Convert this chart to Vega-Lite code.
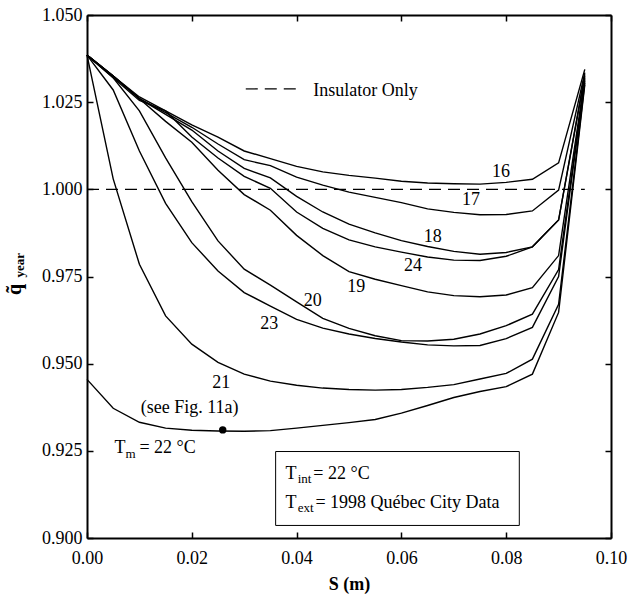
{
  "$schema": "https://vega.github.io/schema/vega-lite/v6.json",
  "width": 524,
  "height": 523,
  "autosize": {"type": "none"},
  "padding": {"left": 87, "top": 15, "right": 17, "bottom": 56},
  "config": {
    "font": "Liberation Serif, Times New Roman, Times, serif",
    "view": {"stroke": null},
    "axis": {
      "domainColor": "black", "domainWidth": 2,
      "tickColor": "black", "tickWidth": 1.5, "tickSize": -6,
      "labelColor": "black", "labelFontSize": 18, "labelFont": "Liberation Serif, Times New Roman, Times, serif",
      "titleFont": "Liberation Serif, Times New Roman, Times, serif", "titleColor": "black", "grid": false, "labelFlush": false
    },
    "text": {"font": "Liberation Serif, Times New Roman, Times, serif", "color": "black"}
  },
  "datasets": {
    "curves": [
      {"curve":"16","s":0,"q":1.0385},{"curve":"16","s":0.005,"q":1.0325},{"curve":"16","s":0.01,"q":1.0265},{"curve":"16","s":0.015,"q":1.0225},{"curve":"16","s":0.02,"q":1.0185},{"curve":"16","s":0.025,"q":1.015},{"curve":"16","s":0.03,"q":1.011},{"curve":"16","s":0.035,"q":1.0088},{"curve":"16","s":0.04,"q":1.0066},{"curve":"16","s":0.045,"q":1.005},{"curve":"16","s":0.05,"q":1.004},{"curve":"16","s":0.055,"q":1.0032},{"curve":"16","s":0.06,"q":1.0023},{"curve":"16","s":0.065,"q":1.0018},{"curve":"16","s":0.07,"q":1.0016},{"curve":"16","s":0.075,"q":1.0015},{"curve":"16","s":0.08,"q":1.002},{"curve":"16","s":0.085,"q":1.0029},{"curve":"16","s":0.09,"q":1.0076},{"curve":"16","s":0.095,"q":1.0344},
      {"curve":"17","s":0,"q":1.0385},{"curve":"17","s":0.005,"q":1.0325},{"curve":"17","s":0.01,"q":1.026},{"curve":"17","s":0.015,"q":1.022},{"curve":"17","s":0.02,"q":1.0178},{"curve":"17","s":0.025,"q":1.013},{"curve":"17","s":0.03,"q":1.0085},{"curve":"17","s":0.035,"q":1.0068},{"curve":"17","s":0.04,"q":1.0035},{"curve":"17","s":0.045,"q":1.0012},{"curve":"17","s":0.05,"q":0.9992},{"curve":"17","s":0.055,"q":0.9977},{"curve":"17","s":0.06,"q":0.9962},{"curve":"17","s":0.065,"q":0.9944},{"curve":"17","s":0.07,"q":0.9934},{"curve":"17","s":0.075,"q":0.9927},{"curve":"17","s":0.08,"q":0.9928},{"curve":"17","s":0.085,"q":0.9938},{"curve":"17","s":0.09,"q":0.9998},{"curve":"17","s":0.095,"q":1.0335},
      {"curve":"18","s":0,"q":1.0385},{"curve":"18","s":0.005,"q":1.0325},{"curve":"18","s":0.01,"q":1.026},{"curve":"18","s":0.015,"q":1.0215},{"curve":"18","s":0.02,"q":1.017},{"curve":"18","s":0.025,"q":1.011},{"curve":"18","s":0.03,"q":1.006},{"curve":"18","s":0.035,"q":1.0033},{"curve":"18","s":0.04,"q":0.998},{"curve":"18","s":0.045,"q":0.9935},{"curve":"18","s":0.05,"q":0.99},{"curve":"18","s":0.055,"q":0.9875},{"curve":"18","s":0.06,"q":0.9853},{"curve":"18","s":0.065,"q":0.9836},{"curve":"18","s":0.07,"q":0.9822},{"curve":"18","s":0.075,"q":0.9814},{"curve":"18","s":0.08,"q":0.9819},{"curve":"18","s":0.085,"q":0.9835},{"curve":"18","s":0.09,"q":0.9912},{"curve":"18","s":0.095,"q":1.033},
      {"curve":"24","s":0,"q":1.0385},{"curve":"24","s":0.005,"q":1.032},{"curve":"24","s":0.01,"q":1.0255},{"curve":"24","s":0.015,"q":1.0225},{"curve":"24","s":0.02,"q":1.015},{"curve":"24","s":0.025,"q":1.009},{"curve":"24","s":0.03,"q":1.0037},{"curve":"24","s":0.035,"q":1.0003},{"curve":"24","s":0.04,"q":0.9935},{"curve":"24","s":0.045,"q":0.9888},{"curve":"24","s":0.05,"q":0.9855},{"curve":"24","s":0.055,"q":0.9835},{"curve":"24","s":0.06,"q":0.982},{"curve":"24","s":0.065,"q":0.9806},{"curve":"24","s":0.07,"q":0.9797},{"curve":"24","s":0.075,"q":0.9796},{"curve":"24","s":0.08,"q":0.9808},{"curve":"24","s":0.085,"q":0.9835},{"curve":"24","s":0.09,"q":0.9912},{"curve":"24","s":0.095,"q":1.0325},
      {"curve":"19","s":0,"q":1.0385},{"curve":"19","s":0.005,"q":1.0325},{"curve":"19","s":0.01,"q":1.026},{"curve":"19","s":0.015,"q":1.0195},{"curve":"19","s":0.02,"q":1.0135},{"curve":"19","s":0.025,"q":1.0055},{"curve":"19","s":0.03,"q":0.9985},{"curve":"19","s":0.035,"q":0.994},{"curve":"19","s":0.04,"q":0.9868},{"curve":"19","s":0.045,"q":0.981},{"curve":"19","s":0.05,"q":0.9764},{"curve":"19","s":0.055,"q":0.9742},{"curve":"19","s":0.06,"q":0.9724},{"curve":"19","s":0.065,"q":0.9706},{"curve":"19","s":0.07,"q":0.9695},{"curve":"19","s":0.075,"q":0.9692},{"curve":"19","s":0.08,"q":0.9697},{"curve":"19","s":0.085,"q":0.9718},{"curve":"19","s":0.09,"q":0.981},{"curve":"19","s":0.095,"q":1.032},
      {"curve":"20","s":0,"q":1.0385},{"curve":"20","s":0.005,"q":1.032},{"curve":"20","s":0.01,"q":1.0225},{"curve":"20","s":0.015,"q":1.009},{"curve":"20","s":0.02,"q":0.9965},{"curve":"20","s":0.025,"q":0.9852},{"curve":"20","s":0.03,"q":0.9771},{"curve":"20","s":0.035,"q":0.9725},{"curve":"20","s":0.04,"q":0.9677},{"curve":"20","s":0.045,"q":0.963},{"curve":"20","s":0.05,"q":0.9601},{"curve":"20","s":0.055,"q":0.958},{"curve":"20","s":0.06,"q":0.9566},{"curve":"20","s":0.065,"q":0.9565},{"curve":"20","s":0.07,"q":0.957},{"curve":"20","s":0.075,"q":0.9585},{"curve":"20","s":0.08,"q":0.9609},{"curve":"20","s":0.085,"q":0.9642},{"curve":"20","s":0.09,"q":0.977},{"curve":"20","s":0.095,"q":1.0315},
      {"curve":"23","s":0,"q":1.0385},{"curve":"23","s":0.005,"q":1.0285},{"curve":"23","s":0.01,"q":1.011},{"curve":"23","s":0.015,"q":0.996},{"curve":"23","s":0.02,"q":0.9847},{"curve":"23","s":0.025,"q":0.9766},{"curve":"23","s":0.03,"q":0.9704},{"curve":"23","s":0.035,"q":0.9665},{"curve":"23","s":0.04,"q":0.9627},{"curve":"23","s":0.045,"q":0.9602},{"curve":"23","s":0.05,"q":0.9585},{"curve":"23","s":0.055,"q":0.9572},{"curve":"23","s":0.06,"q":0.9562},{"curve":"23","s":0.065,"q":0.9554},{"curve":"23","s":0.07,"q":0.9551},{"curve":"23","s":0.075,"q":0.9552},{"curve":"23","s":0.08,"q":0.9572},{"curve":"23","s":0.085,"q":0.9604},{"curve":"23","s":0.09,"q":0.975},{"curve":"23","s":0.095,"q":1.031},
      {"curve":"21","s":0,"q":1.0385},{"curve":"21","s":0.005,"q":1.003},{"curve":"21","s":0.01,"q":0.9785},{"curve":"21","s":0.015,"q":0.9637},{"curve":"21","s":0.02,"q":0.9556},{"curve":"21","s":0.025,"q":0.9504},{"curve":"21","s":0.03,"q":0.947},{"curve":"21","s":0.035,"q":0.945},{"curve":"21","s":0.04,"q":0.9438},{"curve":"21","s":0.045,"q":0.943},{"curve":"21","s":0.05,"q":0.9426},{"curve":"21","s":0.055,"q":0.9424},{"curve":"21","s":0.06,"q":0.9426},{"curve":"21","s":0.065,"q":0.9432},{"curve":"21","s":0.07,"q":0.944},{"curve":"21","s":0.075,"q":0.9456},{"curve":"21","s":0.08,"q":0.9472},{"curve":"21","s":0.085,"q":0.9513},{"curve":"21","s":0.09,"q":0.967},{"curve":"21","s":0.095,"q":1.0305},
      {"curve":"22","s":0,"q":0.9455},{"curve":"22","s":0.005,"q":0.9372},{"curve":"22","s":0.01,"q":0.9332},{"curve":"22","s":0.015,"q":0.9315},{"curve":"22","s":0.02,"q":0.9309},{"curve":"22","s":0.025,"q":0.9307},{"curve":"22","s":0.03,"q":0.9306},{"curve":"22","s":0.035,"q":0.9308},{"curve":"22","s":0.04,"q":0.9315},{"curve":"22","s":0.045,"q":0.9323},{"curve":"22","s":0.05,"q":0.9331},{"curve":"22","s":0.055,"q":0.934},{"curve":"22","s":0.06,"q":0.9358},{"curve":"22","s":0.065,"q":0.938},{"curve":"22","s":0.07,"q":0.9403},{"curve":"22","s":0.075,"q":0.942},{"curve":"22","s":0.08,"q":0.9434},{"curve":"22","s":0.085,"q":0.947},{"curve":"22","s":0.09,"q":0.9647},{"curve":"22","s":0.095,"q":1.03}
    ],
    "dashed": [
      {"line":"Insulator Only","s":0,"q":1.0},{"line":"Insulator Only","s":0.095,"q":1.0},
      {"line":"legend","s":0.0303,"q":1.0288},{"line":"legend","s":0.0406,"q":1.0288}
    ],
    "curveLabels": [
      {"label":"16","s":0.079,"q":1.005},
      {"label":"17","s":0.0733,"q":0.9968},
      {"label":"18","s":0.066,"q":0.9862},
      {"label":"24","s":0.0622,"q":0.978},
      {"label":"19","s":0.0514,"q":0.9721},
      {"label":"20","s":0.0431,"q":0.968},
      {"label":"23","s":0.0348,"q":0.9613},
      {"label":"21","s":0.0256,"q":0.9444},
      {"label":"(see Fig. 11a)","s":0.0196,"q":0.9374}
    ],
    "texts": [
      {"label":"Insulator Only","s":0.0432,"q":1.0269},
      {"label":"T","s":0.00525,"q":0.9243},
      {"label":"= 22 °C","s":0.01,"q":0.9243},
      {"label":"T","s":0.0379,"q":0.917},
      {"label":"= 22 °C","s":0.0432,"q":0.917},
      {"label":"T","s":0.0379,"q":0.9086},
      {"label":"= 1998 Québec City Data","s":0.0436,"q":0.9086}
    ],
    "subscripts": [
      {"label":"m","s":0.00735,"q":0.923},
      {"label":"int","s":0.0402,"q":0.9158},
      {"label":"ext","s":0.0402,"q":0.9074}
    ],
    "box": [{"s":0.036,"s2":0.0825,"q":0.9248,"q2":0.9036}],
    "marker": [{"s":0.0259,"q":0.931}],
    "ytitle": [{"label":"year","s":-0.0127,"q":0.9782}]
  },
  "layer": [
    {
      "data": {"name": "curves"},
      "mark": {"type": "line", "color": "black", "strokeWidth": 1.4},
      "encoding": {
        "x": {"field": "s", "type": "quantitative", "scale": {"domain": [0, 0.1], "nice": false, "zero": false},
              "axis": {"orient": "bottom", "values": [0, 0.02, 0.04, 0.06, 0.08, 0.1], "format": ".2f", "title": "S (m)", "titleFontSize": 18, "titleFontWeight": "bold", "labelPadding": 17, "titlePadding": 8}},
        "y": {"field": "q", "type": "quantitative", "scale": {"domain": [0.9, 1.05], "nice": false, "zero": false},
              "axis": {"orient": "left", "values": [0.9, 0.925, 0.95, 0.975, 1.0, 1.025, 1.05], "format": ".3f", "title": "q̃", "titleFontSize": 20, "titleFontWeight": "bold", "labelPadding": 11, "titleAngle": 270, "titleX": -73, "titleY": 274, "titleAlign": "center", "titleBaseline": "middle"}},
        "detail": {"field": "curve", "type": "nominal"}
      }
    },
    {
      "data": {"name": "dashed"},
      "mark": {"type": "line", "color": "black", "strokeWidth": 1.2, "strokeDash": [12, 7]},
      "encoding": {
        "x": {"field": "s", "type": "quantitative", "scale": {"domain": [0, 0.1], "nice": false, "zero": false},
              "axis": {"orient": "top", "values": [0, 0.02, 0.04, 0.06, 0.08, 0.1], "labels": false, "title": null}},
        "y": {"field": "q", "type": "quantitative", "scale": {"domain": [0.9, 1.05], "nice": false, "zero": false},
              "axis": {"orient": "right", "values": [0.9, 0.925, 0.95, 0.975, 1.0, 1.025, 1.05], "labels": false, "title": null}},
        "detail": {"field": "line", "type": "nominal"}
      }
    },
    {
      "data": {"name": "box"},
      "mark": {"type": "rect", "fill": "white", "stroke": "black", "strokeWidth": 1},
      "encoding": {
        "x": {"field": "s", "type": "quantitative", "scale": {"domain": [0, 0.1], "nice": false, "zero": false}, "axis": null},
        "x2": {"field": "s2"},
        "y": {"field": "q", "type": "quantitative", "scale": {"domain": [0.9, 1.05], "nice": false, "zero": false}, "axis": null},
        "y2": {"field": "q2"}
      }
    },
    {
      "data": {"name": "marker"},
      "mark": {"type": "point", "filled": true, "color": "black", "size": 55, "opacity": 1},
      "encoding": {
        "x": {"field": "s", "type": "quantitative", "scale": {"domain": [0, 0.1], "nice": false, "zero": false}, "axis": null},
        "y": {"field": "q", "type": "quantitative", "scale": {"domain": [0.9, 1.05], "nice": false, "zero": false}, "axis": null}
      }
    },
    {
      "data": {"name": "curveLabels"},
      "mark": {"type": "text", "fontSize": 18, "align": "center", "baseline": "middle"},
      "encoding": {
        "x": {"field": "s", "type": "quantitative", "scale": {"domain": [0, 0.1], "nice": false, "zero": false}, "axis": null},
        "y": {"field": "q", "type": "quantitative", "scale": {"domain": [0.9, 1.05], "nice": false, "zero": false}, "axis": null},
        "text": {"field": "label"}
      }
    },
    {
      "data": {"name": "texts"},
      "mark": {"type": "text", "fontSize": 18, "align": "left", "baseline": "alphabetic"},
      "encoding": {
        "x": {"field": "s", "type": "quantitative", "scale": {"domain": [0, 0.1], "nice": false, "zero": false}, "axis": null},
        "y": {"field": "q", "type": "quantitative", "scale": {"domain": [0.9, 1.05], "nice": false, "zero": false}, "axis": null},
        "text": {"field": "label"}
      }
    },
    {
      "data": {"name": "subscripts"},
      "mark": {"type": "text", "fontSize": 13, "align": "left", "baseline": "alphabetic"},
      "encoding": {
        "x": {"field": "s", "type": "quantitative", "scale": {"domain": [0, 0.1], "nice": false, "zero": false}, "axis": null},
        "y": {"field": "q", "type": "quantitative", "scale": {"domain": [0.9, 1.05], "nice": false, "zero": false}, "axis": null},
        "text": {"field": "label"}
      }
    },
    {
      "data": {"name": "ytitle"},
      "mark": {"type": "text", "fontSize": 13, "fontWeight": "bold", "align": "center", "baseline": "middle", "angle": 270},
      "encoding": {
        "x": {"field": "s", "type": "quantitative", "scale": {"domain": [0, 0.1], "nice": false, "zero": false}, "axis": null},
        "y": {"field": "q", "type": "quantitative", "scale": {"domain": [0.9, 1.05], "nice": false, "zero": false}, "axis": null},
        "text": {"field": "label"}
      }
    }
  ],
  "resolve": {"axis": {"x": "independent", "y": "independent"}}
}
